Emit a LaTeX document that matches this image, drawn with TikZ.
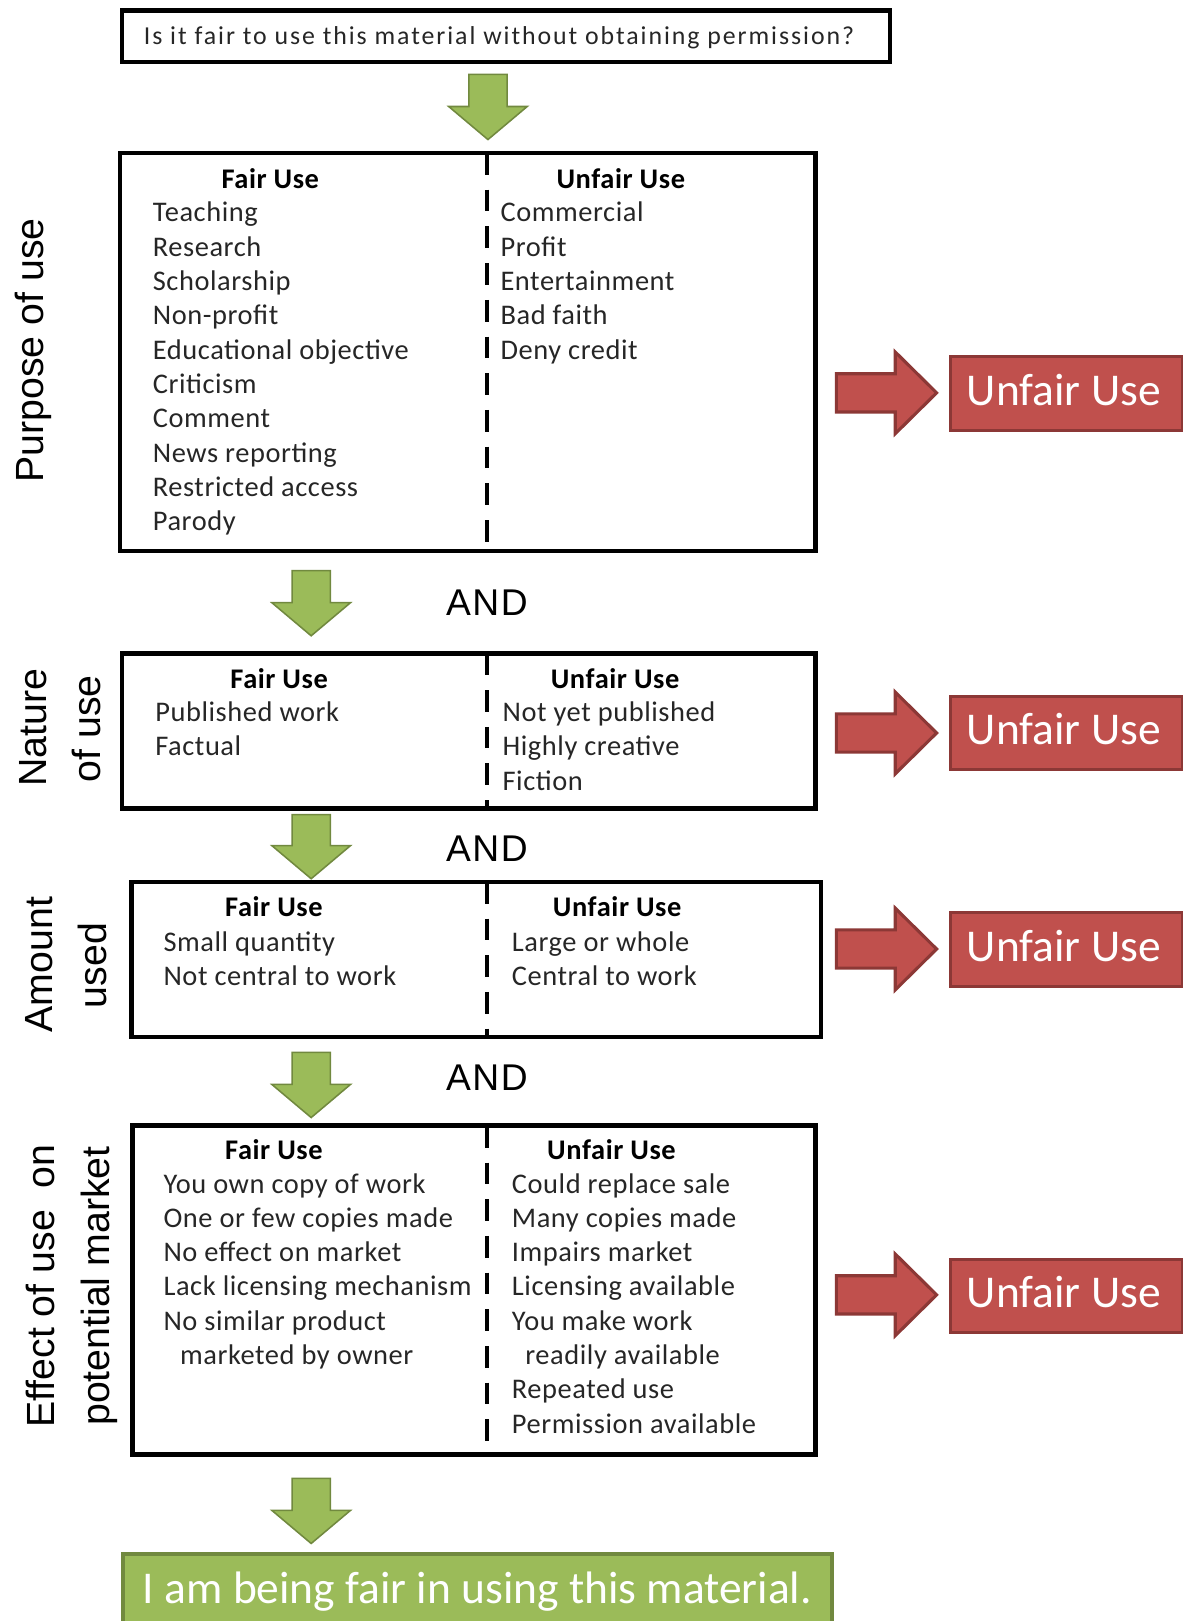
\documentclass[tikz,border=0pt]{standalone}
\usepackage{fontspec}
\setmainfont{Carlito}
\newfontfamily\bodyf[LetterSpace=2]{Carlito}
\newfontfamily\qf[LetterSpace=7.5]{Carlito}
\newfontfamily\lblf{Liberation Sans}
\newfontfamily\andf[LetterSpace=4]{Liberation Sans}
\definecolor{grfill}{HTML}{9BBB59}
\definecolor{grline}{HTML}{71893F}
\definecolor{rdfill}{HTML}{C0504D}
\definecolor{rdline}{HTML}{8C3836}
\definecolor{txt}{HTML}{262626}
\tikzset{
 item/.style={font=\bodyf\fontsize{27.5}{33}\selectfont, text=txt, anchor=base west, inner sep=0},
 hdr/.style={font=\bodyf\bfseries\fontsize{27.5}{33}\selectfont, anchor=base, inner sep=0},
 sidelbl/.style={font=\lblf\fontsize{38}{46}\selectfont, rotate=90, anchor=base, inner sep=0},
 andlbl/.style={font=\andf\fontsize{36}{43}\selectfont, anchor=base, inner sep=0},
 panel/.style={draw=black, line width=4.5},
 divider/.style={draw=black, line width=4.5, dash pattern=on 21pt off 14.5pt},
 garrow/.style={fill=grfill, draw=grline, line width=1.5, line join=miter},
 rarrow/.style={fill=rdfill, draw=rdline, line width=3, line join=miter},
 rbox/.style={fill=rdfill, draw=rdline, line width=3},
 rtext/.style={font=\fontsize{44}{52}\selectfont, text=white, anchor=base, inner sep=0},
}
\newcommand\GArrowAt[4]{%
 \draw[garrow] ({#1-18.5},#2) -- ({#1+18.5},#2) -- ({#1+18.5},#3) -- ({#1+38},#3) -- (#1,#4)
   -- ({#1-38},#3) -- ({#1-18.5},#3) -- cycle;}
\newcommand\RArrowAt[1]{%
 \draw[rarrow] (809,{#1-18.5}) -- (866,{#1-18.5}) -- (866,{#1-39.5}) -- (906,#1)
   -- (866,{#1+39.5}) -- (866,{#1+18.5}) -- (809,{#1+18.5}) -- cycle;}
\begin{document}
\begin{tikzpicture}[x=1pt,y=-1pt]
\useasboundingbox (0,0) rectangle (1144,1568);

% question
\draw[panel] (118,10) rectangle (861,60);
\node[font=\qf\fontsize{25}{30}\selectfont, anchor=base west, inner sep=0, text=txt] (q) at (139,43)
 {Is it fair to use this material without obtaining permission?};
\GArrowAt{472}{72}{103}{135}

% ---- Purpose of use
\node[sidelbl] (lp) at (42,339) {Purpose of use};
\draw[panel] (116,148) rectangle (789,533);
\draw[divider] (471,148) -- (471,533);
\node[hdr] (h1l) at (261.5,182) {Fair Use};
\node[hdr] (h1r) at (600.5,182) {Unfair Use};
\foreach \t [count=\i from 0] in {Teaching,Research,Scholarship,Non-profit,Educational objective,Criticism,Comment,News reporting,Restricted access,Parody}
  \node[item] (a\i) at (147.7,{214.5+33.2*\i}) {\t};
\foreach \t [count=\i from 0] in {Commercial,Profit,Entertainment,Bad faith,Deny credit}
  \node[item] (b\i) at (484,{214.5+33.2*\i}) {\t};
\RArrowAt{380}
\node[rbox, minimum width=224, minimum height=71, inner sep=0, anchor=west] (u1) at (918,380.5) {};
\node[rtext] (u1t) at (1029,392) {Unfair Use};

\GArrowAt{301}{552}{583}{615}
\node[andlbl] (and1) at (471,595) {AND};

% ---- Nature of use
\node[sidelbl] (ln1) at (45,704) {Nature};
\node[sidelbl] (ln2) at (97,705) {of use};
\draw[panel] (118,632) rectangle (789,782);
\draw[divider] (471,632) -- (471,782);
\node[hdr] (h2l) at (270,665.6) {Fair Use};
\node[hdr] (h2r) at (595,665.6) {Unfair Use};
\foreach \t [count=\i from 0] in {Published work,Factual}
  \node[item] (c\i) at (150,{698+33.2*\i}) {\t};
\foreach \t [count=\i from 0] in {Not yet published,Highly creative,Fiction}
  \node[item] (d\i) at (486,{698+33.2*\i}) {\t};
\RArrowAt{709}
\node[rbox, minimum width=224, minimum height=71, inner sep=0, anchor=west] (u2) at (918,709) {};
\node[rtext] (u2t) at (1029,720.5) {Unfair Use};

\GArrowAt{301}{788}{818}{850}
\node[andlbl] (and2) at (471,833) {AND};

% ---- Amount used
\node[sidelbl] (la1) at (51,933) {Amount};
\node[sidelbl] (la2) at (103,934) {used};
\draw[panel] (127,853) rectangle (794,1003);
\draw[divider] (471,853) -- (471,1003);
\node[hdr] (h3l) at (265,886.5) {Fair Use};
\node[hdr] (h3r) at (597,886.5) {Unfair Use};
\foreach \t [count=\i from 0] in {Small quantity,Not central to work}
  \node[item] (e\i) at (158,{920+33.2*\i}) {\t};
\foreach \t [count=\i from 0] in {Large or whole,Central to work}
  \node[item] (f\i) at (495,{920+33.2*\i}) {\t};
\RArrowAt{918}
\node[rbox, minimum width=224, minimum height=71, inner sep=0, anchor=west] (u3) at (918,918.4) {};
\node[rtext] (u3t) at (1029,930) {Unfair Use};

\GArrowAt{301}{1018}{1049}{1081}
\node[andlbl] (and3) at (471,1055) {AND};

% ---- Effect on market
\node[sidelbl] (le1) at (53,1244) {Effect of use~~on};
\node[sidelbl] (le2) at (106,1244) {potential market};
\draw[panel] (128,1089) rectangle (789,1407);
\draw[divider] (471,1089) -- (471,1407);
\node[hdr] (h4l) at (265,1121.8) {Fair Use};
\node[hdr] (h4r) at (591.5,1121.8) {Unfair Use};
\foreach \x/\t [count=\i from 0] in {158/You own copy of work,158/One or few copies made,158/No effect on market,158/Lack licensing mechanism,158/No similar product,174/marketed by owner}
  \node[item] (g\i) at (\x,{1154+33.2*\i}) {\t};
\foreach \x/\t [count=\i from 0] in {495/Could replace sale,495/Many copies made,495/Impairs market,495/Licensing available,495/You make work,508/readily available,495/Repeated use,495/Permission available}
  \node[item] (k\i) at (\x,{1154+33.2*\i}) {\t};
\RArrowAt{1252.5}
\node[rbox, minimum width=224, minimum height=71, inner sep=0, anchor=west] (u4) at (918,1253.4) {};
\node[rtext] (u4t) at (1029,1265) {Unfair Use};

\GArrowAt{301}{1430}{1461}{1493}

% ---- conclusion
\draw[fill=grfill, draw=grline, line width=3.5] (119,1503) rectangle (805,1590);
\node[font=\fontsize{44}{52}\selectfont, text=white, anchor=base west, inner sep=0] (fair) at (138,1551)
 {I am being fair in using this material.};
\end{tikzpicture}
\end{document}
